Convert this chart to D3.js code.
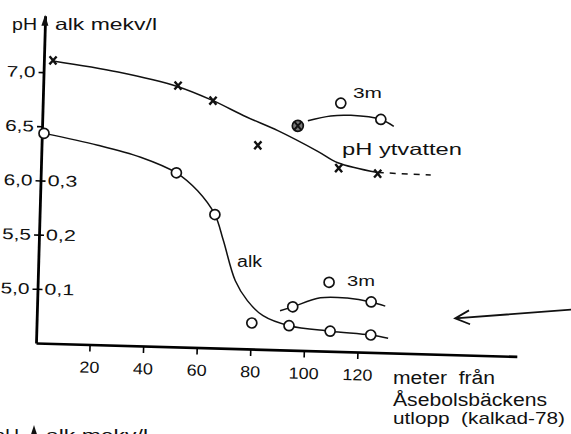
<!DOCTYPE html>
<html>
<head>
<meta charset="utf-8">
<script src="https://cdn.jsdelivr.net/npm/d3@7"></script>
<style>
  body { margin: 0; background: #fff; }
  text { font-family: "Liberation Sans", Arial, sans-serif; fill: #111; }
</style>
</head>
<body>
<div id="chart"></div>
<script>
// pH i ytvattnet (x)
const phDist = [3.4, 50.3, 63.5, 80.7, 111.1, 125.7];
const phVal = [7.11, 6.91, 6.78, 6.38, 6.19, 6.15];
// handritad kurva för pH
const phLineDist = [3.4, 27.8, 50.3, 63.5, 76.0, 88.0, 103.1, 110.7, 125.7];
const phLineVal = [7.105, 7.02, 6.90, 6.78, 6.64, 6.52, 6.34, 6.24, 6.16];
const phDashDist = [125.7, 145.5];
const phDashVal = [6.16, 6.15];
// pH på 3 m djup
const ph3Dist = [95.4, 111.2, 126.3];
const ph3Val = [6.57, 6.79, 6.65];
const ph3LineDist = [99.1, 107.6, 115.1, 126.3, 131.2];
const ph3LineVal = [6.62, 6.67, 6.68, 6.65, 6.59];
// alkalinitet (o)
const alkDist = [0.8, 50.6, 65.4, 80.3, 94.2, 109.6, 124.8];
const alkVal = [0.387, 0.321, 0.246, 0.048, 0.045, 0.037, 0.032];
const alkLineDist = [0.8, 21.0, 37.1, 50.6, 58.7, 65.4, 68.8, 73.7, 78.4, 84.4, 94.2, 109.6, 124.8, 131.3];
const alkLineVal = [0.387, 0.368, 0.348, 0.321, 0.289, 0.246, 0.199, 0.125, 0.089, 0.062, 0.045, 0.037, 0.032, 0.027];
// alkalinitet 3 m
const alk3Dist = [95.4, 108.7, 124.6];
const alk3Val = [0.080, 0.127, 0.093];
const alk3LineDist = [90.7, 95.4, 105.6, 115.6, 124.6, 129.9];
const alk3LineVal = [0.072, 0.080, 0.098, 0.099, 0.093, 0.086];
// ticks
const xTicks = [20, 40, 60, 80, 100, 120];
const phTicks = [5, 5.5, 6, 6.5, 7];
const alkTicks = [0.1, 0.2, 0.3];
// pil mot utloppet (meter, alk)
const arrowFrom = [199.3, 0.089];
const arrowTo = [156.1, 0.067];

const svg = d3.select("#chart").append("svg")
  .attr("width", 571)
  .attr("height", 434);

// the scan is slightly rotated
const g = svg.append("g").attr("transform", "translate(36,343) rotate(1.6)");

const x = d3.scaleLinear().domain([0, 179.5]).range([0, 481]);
const yPH = d3.scaleLinear().domain([4.5, 7.52]).range([0, -327.4]);
const yAlk = d3.scaleLinear().domain([0, 0.604]).range([0, -327.4]);

const comma = d => d3.format(".1f")(d).replace(".", ",");

// x axis
const xAxis = g.append("g")
  .call(d3.axisBottom(x).tickValues(xTicks).tickSize(7).tickSizeOuter(0).tickPadding(10));
xAxis.select(".domain").attr("stroke-width", 2.7);
xAxis.selectAll(".tick line").attr("stroke-width", 1.6);
xAxis.selectAll(".tick text")
  .attr("font-size", 16)
  .attr("textLength", d => String(d).length * 10)
  .attr("lengthAdjust", "spacingAndGlyphs");

// pH axis
const yAxis = g.append("g")
  .call(d3.axisLeft(yPH).tickValues(phTicks).tickSize(5).tickSizeOuter(0).tickPadding(3).tickFormat(comma));
yAxis.select(".domain").attr("stroke-width", 2.8);
yAxis.selectAll(".tick line").attr("stroke-width", 1.6);
yAxis.selectAll(".tick text")
  .attr("font-size", 15.5)
  .attr("textLength", 29)
  .attr("lengthAdjust", "spacingAndGlyphs");

// alk axis on the same line
const aAxis = g.append("g")
  .call(d3.axisRight(yAlk).tickValues(alkTicks).tickSize(5).tickSizeOuter(0).tickPadding(2).tickFormat(comma));
aAxis.select(".domain").remove();
aAxis.selectAll(".tick line").attr("stroke-width", 1.6);
aAxis.selectAll(".tick text")
  .attr("font-size", 15.5)
  .attr("textLength", 30)
  .attr("lengthAdjust", "spacingAndGlyphs");

// arrow head on top of y axis
const axisTop = yPH.range()[1];
g.append("path")
  .attr("d", `M0,${axisTop - 1}L-3.5,${axisTop + 10}L3.5,${axisTop + 10}Z`)
  .attr("fill", "#111");

const zip = (a, b) => a.map((d, i) => [d, b[i]]);
const linePH = d3.line().x(d => x(d[0])).y(d => yPH(d[1])).curve(d3.curveCatmullRom.alpha(0.5));
const lineAlk = d3.line().x(d => x(d[0])).y(d => yAlk(d[1])).curve(d3.curveCatmullRom.alpha(0.5));

function curve(path, dash) {
  g.append("path")
    .attr("d", path)
    .attr("fill", "none")
    .attr("stroke", "#111")
    .attr("stroke-width", 1.5)
    .attr("stroke-dasharray", dash || null);
}
curve(linePH(zip(phLineDist, phLineVal)));
curve(linePH(zip(phDashDist, phDashVal)), "6,6");
curve(linePH(zip(ph3LineDist, ph3LineVal)));
curve(lineAlk(zip(alkLineDist, alkLineVal)));
curve(lineAlk(zip(alk3LineDist, alk3LineVal)));

// markers
const cross = "M-3.5,-4L3.5,4M-3.5,4L3.5,-4";
g.selectAll(".ph").data(zip(phDist, phVal)).join("path")
  .attr("class", "ph")
  .attr("transform", d => `translate(${x(d[0])},${yPH(d[1])})`)
  .attr("d", cross)
  .attr("stroke", "#111")
  .attr("stroke-width", 2.4);

function circles(data, yScale, cls) {
  g.selectAll("." + cls).data(data).join("circle")
    .attr("class", cls)
    .attr("cx", d => x(d[0]))
    .attr("cy", d => yScale(d[1]))
    .attr("r", 5)
    .attr("fill", "#fff")
    .attr("stroke", "#111")
    .attr("stroke-width", 1.7);
}
circles(zip(ph3Dist, ph3Val), yPH, "ph3");
circles(zip(alkDist, alkVal), yAlk, "alk");
circles(zip(alk3Dist, alk3Val), yAlk, "alk3");

// first 3 m pH point is hatched
g.select(".ph3").attr("fill", "#777").attr("r", 5.5);
g.append("path")
  .attr("transform", `translate(${x(ph3Dist[0])},${yPH(ph3Val[0])})`)
  .attr("d", cross)
  .attr("stroke", "#111")
  .attr("stroke-width", 2);

// arrow toward outlet
const ax1 = x(arrowFrom[0]), ay1 = yAlk(arrowFrom[1]);
const ax2 = x(arrowTo[0]), ay2 = yAlk(arrowTo[1]);
const ang = Math.atan2(ay1 - ay2, ax1 - ax2);
const barb = (s) => [ax2 + 16 * Math.cos(ang + s), ay2 + 16 * Math.sin(ang + s)];
const b1 = barb(0.45), b2 = barb(-0.45);
g.append("path")
  .attr("d", `M${ax1},${ay1}L${ax2},${ay2}M${b1[0]},${b1[1]}L${ax2},${ay2}L${b2[0]},${b2[1]}`)
  .attr("fill", "none")
  .attr("stroke", "#111")
  .attr("stroke-width", 1.8);

// labels
const labels = [
  { t: "pH", x: 12, y: 30, s: 16.5, w: 25 },
  { t: "alk mekv/l", x: 55, y: 30, s: 16.5, w: 102 },
  { t: "3m", x: 353, y: 98, s: 15, w: 29 },
  { t: "pH ytvatten", x: 342, y: 155, s: 16.5, w: 120 },
  { t: "alk", x: 237, y: 267, s: 16, w: 25 },
  { t: "3m", x: 347, y: 286, s: 15, w: 28 },
  { t: "meter  från", x: 393, y: 384, s: 18, w: 102 },
  { t: "Åsebolsbäckens", x: 393, y: 406, s: 18, w: 154 },
  { t: "utlopp  (kalkad-78)", x: 393, y: 424, s: 17, w: 172 },
  { t: "pH", x: -6, y: 441, s: 16.5, w: 25 },
  { t: "alk mekv/l", x: 46, y: 441, s: 16.5, w: 102 }
];
svg.selectAll(".lbl").data(labels).join("text")
  .attr("class", "lbl")
  .attr("x", d => d.x)
  .attr("y", d => d.y)
  .attr("font-size", d => d.s)
  .attr("textLength", d => d.w)
  .attr("lengthAdjust", "spacingAndGlyphs")
  .style("white-space", "pre")
  .text(d => d.t);

// axis arrow of the next figure, cut off at the bottom
svg.append("path")
  .attr("d", "M34,425L30.5,436L37.5,436Z")
  .attr("fill", "#111");
</script>
</body>
</html>
